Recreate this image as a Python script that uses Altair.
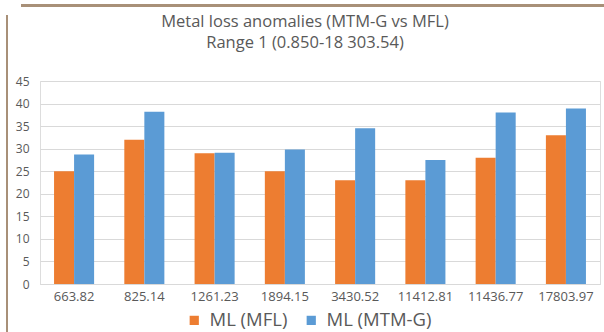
import altair as alt
import pandas as pd

# Anomaly positions (chainage) and depth of metal loss, %
positions = ["663.82", "825.14", "1261.23", "1894.15", "3430.52", "11412.81", "11436.77", "17803.97"]
ml_mfl = [25, 32, 29, 25, 23, 23, 28, 33]
ml_mtmg = [28.7, 38.2, 29.1, 29.8, 34.5, 27.5, 38.0, 38.9]
series = ["ML (MFL)", "ML (MTM-G)"]
colors = ["#ED7D31", "#5B9BD5"]
title_lines = ["Metal loss anomalies (MTM-G vs MFL)", "Range 1 (0.850-18 303.54)"]

rows = []
for i, p in enumerate(positions):
    rows.append({"pos": p, "series": series[0], "value": ml_mfl[i]})
    rows.append({"pos": p, "series": series[1], "value": ml_mtmg[i]})
df = pd.DataFrame(rows)

FONT = "Open Sans"
GRAY = "#595959"

bars = alt.Chart(df).mark_bar().encode(
    x=alt.X("pos:N", sort=positions, title=None,
            scale=alt.Scale(paddingInner=0.43, paddingOuter=0.2),
            axis=alt.Axis(labelAngle=0, labelFontSize=13, labelColor=GRAY, labelFont=FONT,
                          ticks=False, domainColor="#D9D9D9", labelPadding=6)),
    xOffset=alt.XOffset("series:N", sort=series),
    y=alt.Y("value:Q", title=None,
            scale=alt.Scale(domain=[0, 45], nice=False),
            axis=alt.Axis(values=list(range(0, 50, 5)), labelFontSize=12, labelColor=GRAY,
                          labelFont=FONT, ticks=False, domain=False, gridColor="#D9D9D9",
                          labelPadding=11)),
    color=alt.Color("series:N", sort=series,
                    scale=alt.Scale(domain=series, range=colors),
                    legend=alt.Legend(title=None, orient="none", direction="horizontal",
                                      legendX=145, legendY=230, symbolType="square",
                                      symbolSize=85, labelFontSize=18.5, labelColor=GRAY,
                                      labelFont=FONT, columnPadding=14, labelOffset=6,
                                      symbolStrokeWidth=0)),
)

# Two-line chart heading, centred over the plot (one multi-line text item)
heading = alt.Chart(pd.DataFrame({"k": [0]})).mark_text(
    text=title_lines, font=FONT, fontSize=16.5, lineHeight=20.5, color=GRAY,
    align="center", baseline="top"
).encode(
    x=alt.value(265),
    y=alt.value(-67),
)

# Outer frame lines (top and left edges of the card)
frame_top = alt.Chart(df).mark_rule(color="#A89078", strokeWidth=2).encode(
    x=alt.value(-19), x2=alt.value(564), y=alt.value(-75.5))
frame_left = alt.Chart(df).mark_rule(color="#A89078", strokeWidth=2).encode(
    x=alt.value(-33), y=alt.value(-66), y2=alt.value(251))

chart = alt.layer(bars, heading, frame_top, frame_left).properties(
    width=560, height=203,
    autosize=alt.AutoSizeParams(type="none"),
    padding={"left": 40, "top": 81, "right": 4, "bottom": 48},
).configure_view(stroke=None).configure(background="white")

chart.save("out.html", embed_options={"renderer": "svg", "actions": False})
